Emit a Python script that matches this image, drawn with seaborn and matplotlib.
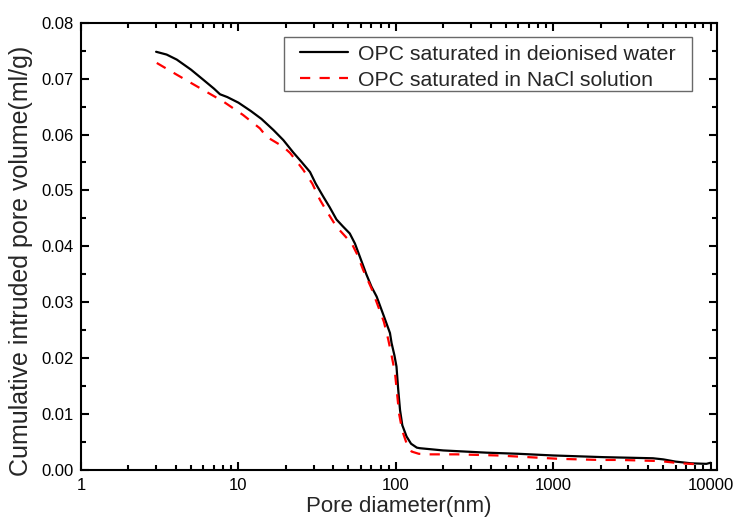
import numpy as np
import pandas as pd
import seaborn as sns
import matplotlib
matplotlib.use("Agg")
import matplotlib.pyplot as plt
from matplotlib.path import Path
from matplotlib.ticker import LogLocator, FixedLocator, FuncFormatter, MultipleLocator

# MIP curves
# OPC saturated in deionised water
dw_diameter = [3.0, 3.5, 4.06, 5.0, 5.98, 7.0, 7.64, 8.5, 10, 12, 14, 16.7, 19.3, 22.3,
               25, 28.5, 31, 34.6, 38, 42, 46, 51, 55, 59, 65, 70, 75.6, 84, 91.8, 94,
               98, 101, 103.5, 106.4, 110, 117, 125, 136, 142, 200, 378, 600, 1000,
               2080, 4300, 5000, 6000, 7500, 9400, 10000]
dw_volume = [0.0748, 0.0743, 0.0734, 0.0716, 0.0698, 0.0682, 0.0672, 0.0667, 0.0657, 0.0642,
             0.0628, 0.0608, 0.0590, 0.0568, 0.0552, 0.0533, 0.0512, 0.0489, 0.0470, 0.0448,
             0.0436, 0.0423, 0.0405, 0.0382, 0.0350, 0.0328, 0.0310, 0.0275, 0.0245, 0.0227,
             0.0205, 0.0185, 0.0145, 0.0107, 0.0080, 0.0060, 0.0047, 0.0040, 0.0039, 0.0035,
             0.0031, 0.0029, 0.0026, 0.0023, 0.0021, 0.0019, 0.0015, 0.0012, 0.0011, 0.0013]

# OPC saturated in NaCl solution
nacl_diameter = [3.03, 4.06, 5.7, 8.02, 10.7, 13.7, 15.1, 19.3, 21.3, 25.8, 29.5, 33, 36, 42,
                 47, 52.5, 57, 62, 70, 77.4, 84, 89.6, 94, 98.9, 102, 105, 110, 117, 126,
                 140, 162, 244, 330, 441, 600, 804, 1088, 1460, 1955, 2655, 3560, 4770,
                 6400, 8570]
nacl_volume = [0.0728, 0.0707, 0.0683, 0.0659, 0.0635, 0.0611, 0.0596, 0.0578, 0.0567, 0.0537,
               0.0512, 0.0483, 0.0465, 0.0435, 0.0420, 0.0405, 0.0385, 0.0358, 0.0325, 0.0292,
               0.0265, 0.0233, 0.0205, 0.0173, 0.0135, 0.0100, 0.0070, 0.0048, 0.0033, 0.0029,
               0.0028, 0.0028, 0.0027, 0.0026, 0.0024, 0.0022, 0.0020, 0.0019, 0.0018, 0.0018,
               0.0017, 0.0016, 0.0012, 0.0010]

labels = ["OPC saturated in deionised water", "OPC saturated in NaCl solution"]


# legend frame: wider at the sides, a bit taller at the top
def wide_box(x0, y0, width, height, mutation_size):
    padx = 0.62 * mutation_size
    xa, xb = x0 - padx, x0 + width + padx
    ya, yb = y0 + 0.12 * mutation_size, y0 + height + 0.22 * mutation_size
    return Path([(xa, ya), (xb, ya), (xb, yb), (xa, yb), (xa, ya)], closed=True)


sns.set_style("ticks")
plt.rcParams["font.family"] = ["Liberation Sans", "DejaVu Sans"]
plt.rcParams["axes.linewidth"] = 1.5

fig = plt.figure(figsize=(7.33, 5.17), dpi=100)
ax = fig.add_axes([0.1105, 0.0909, 0.8670, 0.8652])

sns.lineplot(x=dw_diameter, y=dw_volume, ax=ax, color="black", linewidth=1.6,
             label=labels[0], sort=False)
sns.lineplot(x=nacl_diameter, y=nacl_volume, ax=ax, color="red", linewidth=1.6,
             label=labels[1], sort=False)
ax.lines[1].set_dashes((4.6, 4.2))

ax.set_xscale("log")
ax.set_xlim(1, 10900)
ax.set_ylim(0, 0.08)

ax.xaxis.set_major_locator(FixedLocator([1, 10, 100, 1000, 10000]))
ax.xaxis.set_major_formatter(FuncFormatter(lambda v, p: f"{v:g}"))
ax.xaxis.set_minor_locator(LogLocator(base=10, subs=np.arange(2, 10), numticks=20))
ax.yaxis.set_major_locator(MultipleLocator(0.01))
ax.yaxis.set_minor_locator(MultipleLocator(0.005))
ax.yaxis.set_major_formatter(FuncFormatter(lambda v, p: f"{v:.2f}"))

ax.tick_params(which="both", direction="in", top=True, right=True, width=1.5,
               labelsize=12, colors="black")
ax.tick_params(which="major", length=6)
ax.tick_params(which="minor", length=3.5)
ax.tick_params(axis="x", which="both", pad=6)
ax.tick_params(axis="y", which="both", pad=5.5)
for s in ax.spines.values():
    s.set_visible(True)
    s.set_color("black")

ax.set_xlabel("Pore diameter(nm)", fontsize=16, labelpad=2)
ax.set_ylabel("Cumulative intruded pore volume(ml/g)", fontsize=18)
ax.yaxis.set_label_coords(-0.075, 0.467)

leg = ax.legend(loc="upper right", bbox_to_anchor=(0.9407, 0.9582), borderaxespad=0,
                fontsize=15.3, frameon=True, fancybox=False, edgecolor="#444444",
                handlelength=2.25, handletextpad=0.45, labelspacing=0.33, borderpad=0.16)
leg.get_frame().set_linewidth(1.0)
leg.get_frame().set_boxstyle(wide_box)
leg.get_lines()[1].set_dashes((4.6, 4.2))

fig.savefig("out.png", dpi=100)
